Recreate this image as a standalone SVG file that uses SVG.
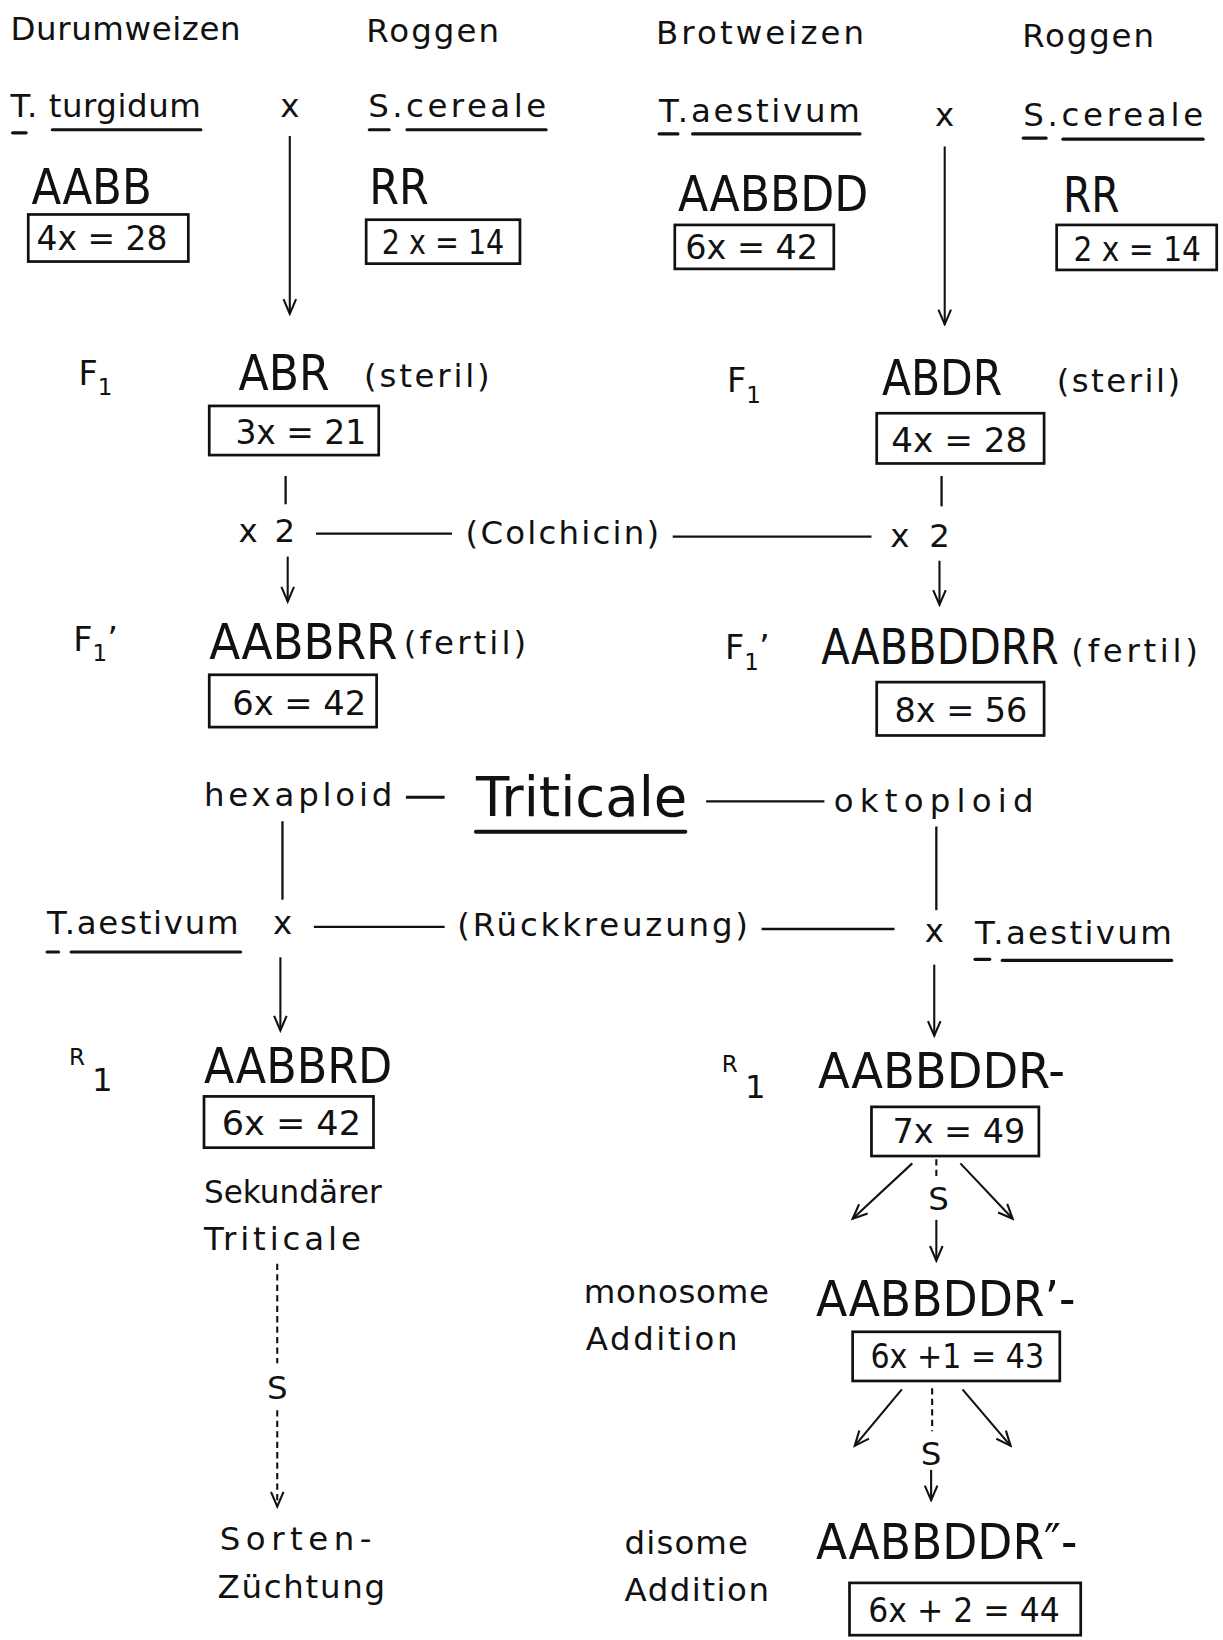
<svg xmlns="http://www.w3.org/2000/svg" width="1223" height="1640" viewBox="0 0 1223 1640">
<defs>
<style>
text{font-family:"DejaVu Sans","Liberation Sans",sans-serif;fill:#111}
.lab{font-size:31px}
.gen{font-size:47px;font-family:"DejaVu Sans Condensed","DejaVu Sans",sans-serif}
.num{font-size:33px;font-family:"DejaVu Sans Condensed","DejaVu Sans",sans-serif}
.big{font-size:52px}
.sub{font-size:22px}
.fl{font-size:32px}
.box{fill:none;stroke:#111;stroke-width:2.6}
.ln{stroke:#111;stroke-width:2.2;fill:none}
.ul{stroke:#111;stroke-width:3;fill:none;stroke-linecap:round}
.ar{stroke:#111;stroke-width:2;fill:none;marker-end:url(#ah)}
.dash{stroke:#111;stroke-width:2;fill:none;stroke-dasharray:6 4}
</style>
<marker id="ah" viewBox="-16 -8 18 16" refX="0" refY="0" markerWidth="18" markerHeight="16" markerUnits="userSpaceOnUse" orient="auto">
<path d="M -14 -6 L 0 0 L -14 6" fill="none" stroke="#111" stroke-width="2"/>
</marker>
</defs>
<rect width="1223" height="1640" fill="#fff"/>
<g transform="scale(1.04619)">
<g id="connectors">
<line class="ar" x1="277" y1="130" x2="277" y2="300"/>
<line class="ar" x1="903" y1="140" x2="903" y2="310"/>
<line class="ln" x1="273" y1="455" x2="273" y2="482"/>
<line class="ar" x1="275" y1="532" x2="275" y2="575"/>
<line class="ln" x1="900" y1="455" x2="900" y2="484"/>
<line class="ar" x1="898" y1="536" x2="898" y2="578"/>
<line class="ln" x1="302" y1="510" x2="432" y2="510"/>
<line class="ln" x1="643" y1="513" x2="833" y2="513"/>
<line class="ln" x1="388" y1="762" x2="425" y2="762" style="stroke-width:3"/>
<line class="ln" x1="675" y1="766" x2="788" y2="766"/>
<line class="ln" x1="270" y1="785" x2="270" y2="860"/>
<line class="ln" x1="895" y1="790" x2="895" y2="870"/>
<line class="ln" x1="300" y1="886" x2="425" y2="886"/>
<line class="ln" x1="728" y1="888" x2="855" y2="888"/>
<line class="ar" x1="268" y1="915" x2="268" y2="985"/>
<line class="ar" x1="893" y1="922" x2="893" y2="990"/>
<line class="dash" x1="265" y1="1208" x2="265" y2="1303"/>
<line class="dash" x1="265" y1="1348" x2="265" y2="1440" style="marker-end:url(#ah)"/>
<line class="ar" x1="872" y1="1112" x2="815" y2="1165"/>
<line class="ar" x1="918" y1="1112" x2="968" y2="1165"/>
<line class="dash" x1="895" y1="1108" x2="895" y2="1126"/>
<line class="ar" x1="895" y1="1166" x2="895" y2="1205"/>
<line class="ar" x1="862" y1="1328" x2="817" y2="1382"/>
<line class="ar" x1="920" y1="1328" x2="966" y2="1382"/>
<line class="dash" x1="891" y1="1327" x2="891" y2="1368"/>
<line class="ar" x1="890" y1="1405" x2="890" y2="1434"/>
</g>

<g id="durumweizen">
<text class="lab" x="10" y="38" textLength="220">Durumweizen</text>
<text class="lab" x="10" y="112" textLength="182">T. turgidum</text>
<line class="ul" x1="12" y1="127" x2="25" y2="127"/>
<line class="ul" x1="50" y1="124" x2="192" y2="124"/>
<text class="gen" x="30" y="195" textLength="115" lengthAdjust="spacingAndGlyphs">AABB</text>
<rect class="box" x="27" y="205" width="153" height="45"/>
<text class="num" x="35" y="239" textLength="125" lengthAdjust="spacingAndGlyphs">4x = 28</text>
</g>
<g id="cross1"><text class="lab" x="277" y="112" text-anchor="middle">x</text></g>
<g id="roggen1">
<text class="lab" x="350" y="40" textLength="127">Roggen</text>
<text class="lab" x="352" y="112" textLength="170">S.cereale</text>
<line class="ul" x1="353" y1="124" x2="372" y2="124"/>
<line class="ul" x1="389" y1="124" x2="522" y2="124"/>
<text class="gen" x="353" y="195" textLength="57" lengthAdjust="spacingAndGlyphs">RR</text>
<rect class="box" x="350" y="210" width="147" height="42"/>
<text class="num" x="365" y="243" textLength="117" lengthAdjust="spacingAndGlyphs">2 x = 14</text>
</g>
<g id="brotweizen">
<text class="lab" x="627" y="42" textLength="199">Brotweizen</text>
<text class="lab" x="630" y="117" textLength="192">T.aestivum</text>
<line class="ul" x1="630" y1="128" x2="648" y2="128"/>
<line class="ul" x1="662" y1="128" x2="822" y2="128"/>
<text class="gen" x="648" y="202" textLength="182" lengthAdjust="spacingAndGlyphs">AABBDD</text>
<rect class="box" x="645" y="215" width="152" height="42"/>
<text class="num" x="655" y="248" textLength="127" lengthAdjust="spacingAndGlyphs">6x = 42</text>
</g>
<g id="cross2"><text class="lab" x="903" y="120" text-anchor="middle">x</text></g>
<g id="roggen2">
<text class="lab" x="977" y="45" textLength="126">Roggen</text>
<text class="lab" x="978" y="120" textLength="172">S.cereale</text>
<line class="ul" x1="978" y1="132" x2="1000" y2="132"/>
<line class="ul" x1="1016" y1="133" x2="1150" y2="133"/>
<text class="gen" x="1016" y="203" textLength="54" lengthAdjust="spacingAndGlyphs">RR</text>
<rect class="box" x="1010" y="215" width="153" height="43"/>
<text class="num" x="1026" y="249" textLength="122" lengthAdjust="spacingAndGlyphs">2 x = 14</text>
</g>

<g id="f1-left">
<text class="fl" x="75" y="368">F<tspan class="sub" dy="10">1</tspan></text>
<text class="gen" x="228" y="373" textLength="87" lengthAdjust="spacingAndGlyphs">ABR</text>
<text class="lab" x="348" y="370" textLength="120">(steril)</text>
<rect class="box" x="200" y="388" width="162" height="47"/>
<text class="num" x="225" y="424" textLength="125" lengthAdjust="spacingAndGlyphs">3x = 21</text>
</g>
<g id="f1-right">
<text class="fl" x="695" y="375">F<tspan class="sub" dy="10">1</tspan></text>
<text class="gen" x="843" y="378" textLength="115" lengthAdjust="spacingAndGlyphs">ABDR</text>
<text class="lab" x="1010" y="375" textLength="118">(steril)</text>
<rect class="box" x="838" y="395" width="160" height="48"/>
<text class="num" x="852" y="432" textLength="130" lengthAdjust="spacingAndGlyphs">4x = 28</text>
</g>
<g id="colchicin">
<text class="lab" x="228" y="518" textLength="54">x 2</text>
<text class="lab" x="445" y="520" textLength="185">(Colchicin)</text>
<text class="lab" x="851" y="523" textLength="57">x 2</text>
</g>

<g id="f1p-left">
<text class="fl" x="70" y="622">F<tspan class="sub" dy="10">1</tspan><tspan dy="-10">’</tspan></text>
<text class="gen" x="200" y="630" textLength="180" lengthAdjust="spacingAndGlyphs">AABBRR</text>
<text class="lab" x="386" y="625" textLength="117">(fertil)</text>
<rect class="box" x="200" y="645" width="160" height="50"/>
<text class="num" x="222" y="683" textLength="128" lengthAdjust="spacingAndGlyphs">6x = 42</text>
</g>
<g id="f1p-right">
<text class="fl" x="693" y="630">F<tspan class="sub" dy="10">1</tspan><tspan dy="-10">’</tspan></text>
<text class="gen" x="785" y="635" textLength="227" lengthAdjust="spacingAndGlyphs">AABBDDRR</text>
<text class="lab" x="1024" y="633" textLength="121">(fertil)</text>
<rect class="box" x="838" y="652" width="160" height="51"/>
<text class="num" x="855" y="690" textLength="127" lengthAdjust="spacingAndGlyphs">8x = 56</text>
</g>

<g id="triticale">
<text class="lab" x="195" y="770" textLength="180">hexaploid</text>
<text class="big" x="455" y="780" textLength="202" lengthAdjust="spacingAndGlyphs">Triticale</text>
<line class="ul" x1="455" y1="795" x2="655" y2="795" style="stroke-width:4"/>
<text class="lab" x="797" y="776" textLength="191">oktoploid</text>
</g>

<g id="rueckkreuzung">
<text class="lab" x="45" y="893" textLength="183">T.aestivum</text>
<line class="ul" x1="45" y1="910" x2="56" y2="910"/>
<line class="ul" x1="68" y1="910" x2="230" y2="910"/>
<text class="lab" x="270" y="893" text-anchor="middle">x</text>
<text class="lab" x="437" y="895" textLength="278">(Rückkreuzung)</text>
<text class="lab" x="893" y="900" text-anchor="middle">x</text>
<text class="lab" x="932" y="902" textLength="188">T.aestivum</text>
<line class="ul" x1="932" y1="917" x2="946" y2="917"/>
<line class="ul" x1="958" y1="918" x2="1120" y2="918"/>
</g>

<g id="r1-left">
<text class="sub" x="66" y="1018">R</text>
<text class="lab" x="88" y="1043">1</text>
<text class="gen" x="195" y="1035" textLength="180" lengthAdjust="spacingAndGlyphs">AABBRD</text>
<rect class="box" x="195" y="1048" width="162" height="49"/>
<text class="num" x="212" y="1085" textLength="133" lengthAdjust="spacingAndGlyphs">6x = 42</text>
</g>
<g id="sekundaer">
<text class="lab" x="195" y="1150" textLength="170" lengthAdjust="spacingAndGlyphs">Sekundärer</text>
<text class="lab" x="195" y="1195" textLength="150">Triticale</text>
<text class="lab" x="265" y="1337" text-anchor="middle">S</text>
</g>
<g id="sortenzuechtung">
<text class="lab" x="210" y="1482" textLength="145">Sorten-</text>
<text class="lab" x="208" y="1527" textLength="160">Züchtung</text>
</g>

<g id="r1-right">
<text class="sub" x="690" y="1025">R</text>
<text class="lab" x="712" y="1050">1</text>
<text class="gen" x="782" y="1040" textLength="236" lengthAdjust="spacingAndGlyphs">AABBDDR-</text>
<rect class="box" x="833" y="1058" width="160" height="47"/>
<text class="num" x="853" y="1093" textLength="127" lengthAdjust="spacingAndGlyphs">7x = 49</text>
<text class="lab" x="897" y="1157" text-anchor="middle">S</text>
</g>
<g id="monosom">
<text class="lab" x="558" y="1245" textLength="177">monosome</text>
<text class="lab" x="560" y="1290" textLength="145">Addition</text>
<text class="gen" x="780" y="1258" textLength="248" lengthAdjust="spacingAndGlyphs">AABBDDR’-</text>
<rect class="box" x="815" y="1273" width="198" height="47"/>
<text class="num" x="832" y="1308" textLength="166" lengthAdjust="spacingAndGlyphs">6x +1 = 43</text>
<text class="lab" x="890" y="1400" text-anchor="middle">S</text>
</g>
<g id="disom">
<text class="lab" x="597" y="1485" textLength="118">disome</text>
<text class="lab" x="597" y="1530" textLength="138">Addition</text>
<text class="gen" x="780" y="1490" textLength="250" lengthAdjust="spacingAndGlyphs">AABBDDR″-</text>
<rect class="box" x="812" y="1513" width="221" height="50"/>
<text class="num" x="830" y="1550" textLength="183" lengthAdjust="spacingAndGlyphs">6x + 2 = 44</text>
</g>
</g>
</svg>
